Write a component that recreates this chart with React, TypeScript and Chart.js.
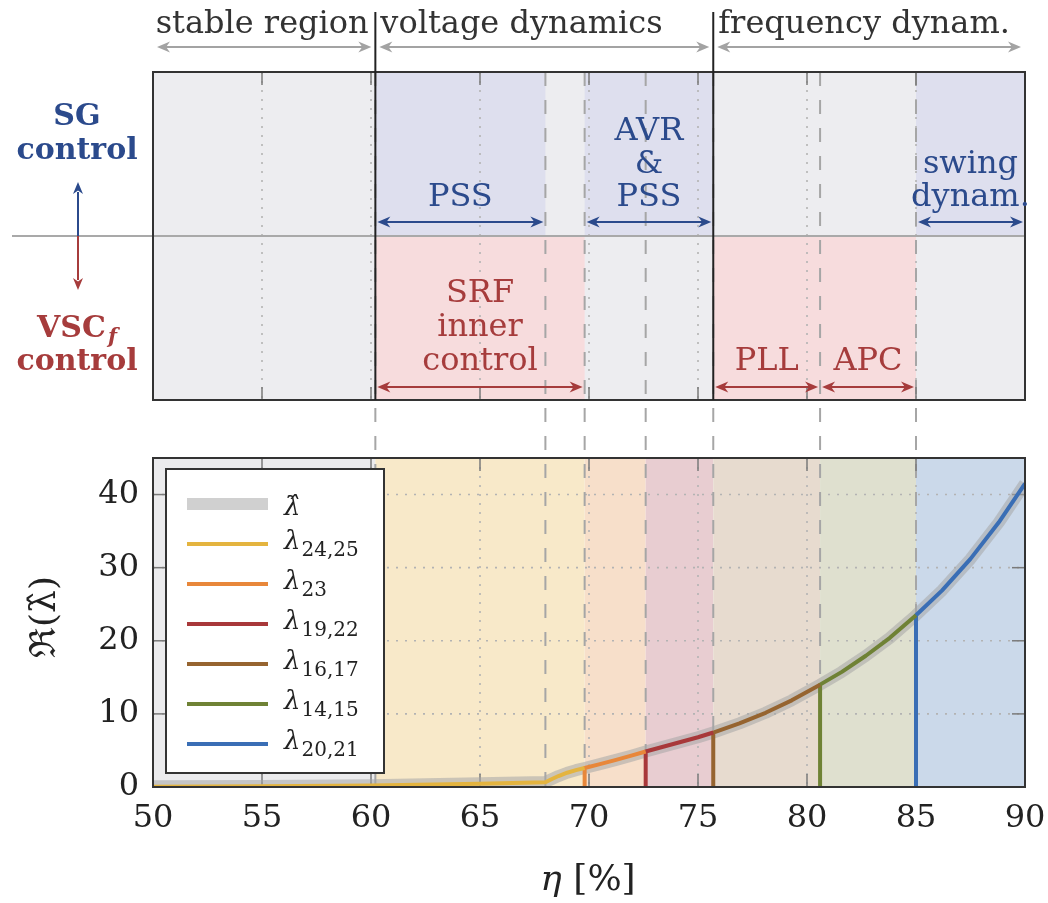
import React, { useEffect, useRef } from 'react';
import { Chart, registerables } from 'chart.js';

Chart.register(...registerables);

const SERIF = '"DejaVu Serif", "Liberation Serif", serif';

// ---- axis ticks ----
const xTickValues = [50, 55, 60, 65, 70, 75, 80, 85, 90];
const yTickValues = [0, 10, 20, 30, 40];

// ---- operating-region boundaries (η in %) ----
const regionBounds = [60.2, 68, 69.8, 72.6, 75.7, 80.6, 85];
const phaseEdges = [50, 60.2, 75.7, 90];
const phaseNames = ['stable region', 'voltage dynamics', 'frequency dynam.'];
const sgSpans = [[60.2, 68], [69.8, 75.7], [85, 90]];
const sgLabels = [['PSS'], ['AVR', '&', 'PSS'], ['swing', 'dynam.']];
const vscShade = [[60.2, 69.8], [75.7, 85]];
const vscSpans = [[60.2, 69.8], [75.7, 80.6], [80.6, 85]];
const vscLabels = [['SRF', 'inner', 'control'], ['PLL'], ['APC']];

const bandEdges = [50, 60.2, 69.8, 72.6, 75.7, 80.6, 85, 90];
const bandColors = ['#ebebed', '#f8e9c9', '#f7dfca', '#e8cdd1', '#e7dbcf', '#dfe0cf', '#cbd9ea'];

// ---- series: real part of dominant eigenvalue ----
const etaHat = [50, 55, 60, 65, 68, 68.3, 68.6, 69.0, 69.4, 69.8, 70.5, 71.2, 71.9, 72.6, 73.4, 74.2, 75.0, 75.7, 76.9, 78.1, 79.3, 80.6, 81.6, 82.7, 83.8, 85.0, 86.2, 87.5, 88.8, 90.0];
const reHat = [0.1, 0.15, 0.25, 0.5, 0.7, 1.1, 1.5, 1.95, 2.3, 2.6, 3.13, 3.68, 4.25, 4.85, 5.5, 6.15, 6.8, 7.45, 8.7, 10.15, 11.85, 14.0, 15.75, 17.95, 20.4, 23.5, 26.9, 31.2, 36.2, 41.5];

const eta2425 = [50, 55, 60, 65, 68, 68.3, 68.6, 69.0, 69.4, 69.8];
const re2425 = [0.05, 0.1, 0.2, 0.45, 0.65, 1.1, 1.5, 1.95, 2.3, 2.6];
const eta23 = [69.8, 69.8, 70.5, 71.2, 71.9, 72.6];
const re23 = [0, 2.6, 3.13, 3.68, 4.25, 4.85];
const eta1922 = [72.6, 72.6, 73.4, 74.2, 75.0, 75.7];
const re1922 = [0, 4.85, 5.5, 6.15, 6.8, 7.45];
const eta1617 = [75.7, 75.7, 76.9, 78.1, 79.3, 80.6];
const re1617 = [0, 7.45, 8.7, 10.15, 11.85, 14.0];
const eta1415 = [80.6, 80.6, 81.6, 82.7, 83.8, 85.0];
const re1415 = [0, 14.0, 15.75, 17.95, 20.4, 23.5];
const eta2021 = [85.0, 85.0, 86.2, 87.5, 88.8, 90.0];
const re2021 = [0, 23.5, 26.9, 31.2, 36.2, 41.5];

const legendMain = ['λ\u0302', 'λ', 'λ', 'λ', 'λ', 'λ', 'λ'];
const legendSub = ['', '24,25', '23', '19,22', '16,17', '14,15', '20,21'];
const seriesColors = ['rgba(165,165,165,0.55)', '#e4b43f', '#e8873a', '#a8383a', '#966430', '#6f8235', '#3a6eb5'];
const legendSwatch = ['#d0d0d0', '#e4b43f', '#e8873a', '#a8383a', '#966430', '#6f8235', '#3a6eb5'];

const toXY = (xs: number[], ys: number[]) => xs.map((x, i) => ({ x, y: ys[i] }));

const BLUE = '#2b4a8c';
const RED = '#a63c3c';
const BOX_TOP = 72;
const BOX_MID = 236;
const BOX_BOT = 400;

function head(ctx: CanvasRenderingContext2D, tx: number, ty: number, dx: number, dy: number, color: string, len = 13, half = 5.5) {
  const bx = tx - dx * len, by = ty - dy * len;
  const nx = -dy, ny = dx;
  const mx = tx - dx * len * 0.7, my = ty - dy * len * 0.7;
  ctx.beginPath();
  ctx.moveTo(tx, ty);
  ctx.lineTo(bx + nx * half, by + ny * half);
  ctx.lineTo(mx, my);
  ctx.lineTo(bx - nx * half, by - ny * half);
  ctx.closePath();
  ctx.fillStyle = color;
  ctx.fill();
}

function dblArrow(ctx: CanvasRenderingContext2D, x1: number, x2: number, y: number, color: string) {
  ctx.save();
  ctx.setLineDash([]);
  ctx.strokeStyle = color;
  ctx.lineWidth = 2;
  ctx.beginPath();
  ctx.moveTo(x1 + 6, y);
  ctx.lineTo(x2 - 6, y);
  ctx.stroke();
  head(ctx, x1, y, -1, 0, color);
  head(ctx, x2, y, 1, 0, color);
  ctx.restore();
}

function vline(ctx: CanvasRenderingContext2D, x: number, y1: number, y2: number) {
  ctx.beginPath();
  ctx.moveTo(x, y1);
  ctx.lineTo(x, y2);
  ctx.stroke();
}
function hline(ctx: CanvasRenderingContext2D, x1: number, x2: number, y: number) {
  ctx.beginPath();
  ctx.moveTo(x1, y);
  ctx.lineTo(x2, y);
  ctx.stroke();
}

const overlay = {
  id: 'overlay',
  beforeDatasetsDraw(chart: any) {
    const { ctx, chartArea: ca, scales } = chart;
    const px = (v: number) => scales.x.getPixelForValue(v);
    const py = (v: number) => scales.y.getPixelForValue(v);
    ctx.save();
    // lower plot bands
    for (let i = 0; i < bandColors.length; i++) {
      ctx.fillStyle = bandColors[i];
      ctx.fillRect(px(bandEdges[i]), ca.top, px(bandEdges[i + 1]) - px(bandEdges[i]), ca.bottom - ca.top);
    }
    // upper box fills
    ctx.fillStyle = '#ededf0';
    ctx.fillRect(px(50), BOX_TOP, px(90) - px(50), BOX_BOT - BOX_TOP);
    ctx.fillStyle = '#dedfee';
    for (const [a, b] of sgSpans) ctx.fillRect(px(a), BOX_TOP, px(b) - px(a), BOX_MID - BOX_TOP);
    ctx.fillStyle = '#f7dcdd';
    for (const [a, b] of vscShade) ctx.fillRect(px(a), BOX_MID, px(b) - px(a), BOX_BOT - BOX_MID);

    // dotted grid
    ctx.strokeStyle = '#b3b3b3';
    ctx.lineWidth = 1.6;
    ctx.setLineDash([2, 7]);
    for (const v of xTickValues.slice(1, -1)) {
      vline(ctx, px(v), ca.top, ca.bottom);
      vline(ctx, px(v), BOX_TOP, BOX_BOT);
    }
    for (const v of yTickValues.slice(1)) hline(ctx, ca.left, ca.right, py(v));

    // dashed region boundaries
    ctx.strokeStyle = '#a6a6a6';
    ctx.lineWidth = 2;
    ctx.setLineDash([14, 14]);
    for (const v of regionBounds) vline(ctx, px(v), BOX_TOP, ca.bottom);

    // inward tick marks
    ctx.setLineDash([]);
    ctx.strokeStyle = '#7a7a7a';
    ctx.lineWidth = 1.5;
    for (const v of xTickValues.slice(1, -1)) {
      vline(ctx, px(v), ca.bottom, ca.bottom - 13);
      vline(ctx, px(v), ca.top, ca.top + 13);
      vline(ctx, px(v), BOX_BOT, BOX_BOT - 13);
      vline(ctx, px(v), BOX_TOP, BOX_TOP + 13);
    }
    for (const v of yTickValues.slice(1)) {
      hline(ctx, ca.left, ca.left + 13, py(v));
      hline(ctx, ca.right, ca.right - 13, py(v));
    }
    ctx.restore();
  },
  afterDatasetsDraw(chart: any) {
    const { ctx, chartArea: ca, scales } = chart;
    const px = (v: number) => scales.x.getPixelForValue(v);
    ctx.save();
    ctx.setLineDash([]);
    // lower plot frame
    ctx.strokeStyle = '#333';
    ctx.lineWidth = 2;
    ctx.strokeRect(ca.left, ca.top, ca.right - ca.left, ca.bottom - ca.top);

    // divider between SG and VSC
    ctx.strokeStyle = '#a9a9a9';
    ctx.lineWidth = 2;
    hline(ctx, 12, px(90), BOX_MID);

    // upper box frame
    ctx.strokeStyle = '#333';
    ctx.lineWidth = 2;
    ctx.strokeRect(px(50), BOX_TOP, px(90) - px(50), BOX_BOT - BOX_TOP);

    // solid phase separators
    ctx.strokeStyle = '#222';
    ctx.lineWidth = 2;
    for (const v of phaseEdges.slice(1, -1)) vline(ctx, px(v), 12, BOX_BOT);

    // phase headers
    ctx.fillStyle = '#333';
    ctx.font = `32px ${SERIF}`;
    ctx.textBaseline = 'alphabetic';
    for (let i = 0; i < phaseNames.length; i++) {
      const a = px(phaseEdges[i]), b = px(phaseEdges[i + 1]);
      if (i === 0) {
        ctx.textAlign = 'center';
        ctx.fillText(phaseNames[i], (a + b) / 2 - 2, 33);
      } else {
        ctx.textAlign = 'left';
        ctx.fillText(phaseNames[i], a + 5, 33);
      }
      dblArrow(ctx, a + 4, b - 4, 47, '#a3a3a3');
    }

    // SG labels
    ctx.textAlign = 'center';
    ctx.font = `32px ${SERIF}`;
    sgSpans.forEach(([a, b], i) => {
      const lines = sgLabels[i];
      const cx = (px(a) + px(b)) / 2;
      lines.forEach((t, j) => {
        ctx.fillStyle = BLUE;
        ctx.fillText(t, cx, 206 - (lines.length - 1 - j) * 33);
      });
      dblArrow(ctx, px(a) + 2, px(b) - 2, 222, BLUE);
    });
    // VSC labels
    vscSpans.forEach(([a, b], i) => {
      const lines = vscLabels[i];
      const cx = (px(a) + px(b)) / 2;
      lines.forEach((t, j) => {
        ctx.fillStyle = RED;
        ctx.fillText(t, cx, 370 - (lines.length - 1 - j) * 34);
      });
      dblArrow(ctx, px(a) + 2, px(b) - 2, 387, RED);
    });

    // left-side group labels
    ctx.fillStyle = BLUE;
    ctx.font = `bold 30px ${SERIF}`;
    ctx.textAlign = 'center';
    ctx.fillText('SG', 77, 125);
    ctx.fillText('control', 77, 159);
    ctx.fillStyle = RED;
    const wV = ctx.measureText('VSC').width;
    ctx.font = `bold italic 21px ${SERIF}`;
    const wF = ctx.measureText('f').width;
    const startV = 77 - (wV + wF + 2) / 2;
    ctx.textAlign = 'left';
    ctx.font = `bold 30px ${SERIF}`;
    ctx.fillText('VSC', startV, 337);
    ctx.font = `bold italic 21px ${SERIF}`;
    ctx.fillText('f', startV + wV + 2, 343);
    ctx.textAlign = 'center';
    ctx.font = `bold 30px ${SERIF}`;
    ctx.fillText('control', 77, 370);

    // small vertical arrows
    ctx.lineWidth = 2;
    ctx.strokeStyle = BLUE;
    vline(ctx, 78, BOX_MID, 192);
    head(ctx, 78, 182, 0, -1, BLUE, 12, 5);
    ctx.strokeStyle = RED;
    vline(ctx, 78, BOX_MID, 280);
    head(ctx, 78, 290, 0, 1, RED, 12, 5);

    // legend
    const lx = 166, ly = 469, lw = 218, lh = 304;
    ctx.fillStyle = '#fff';
    ctx.fillRect(lx, ly, lw, lh);
    ctx.strokeStyle = '#333';
    ctx.lineWidth = 2;
    ctx.strokeRect(lx, ly, lw, lh);
    for (let i = 0; i < legendMain.length; i++) {
      const ry = 504 + i * 40;
      ctx.strokeStyle = legendSwatch[i];
      ctx.lineWidth = i === 0 ? 12 : 4;
      hline(ctx, 187, 268, ry);
      ctx.fillStyle = '#222';
      ctx.textAlign = 'left';
      ctx.font = `italic 26px ${SERIF}`;
      if (i === 0) {
        ctx.fillText(legendMain[i], 284, ry + 11);
      } else {
        ctx.fillText(legendMain[i], 284, ry + 5);
        const w = ctx.measureText(legendMain[i]).width;
        ctx.font = `20px ${SERIF}`;
        ctx.fillText(legendSub[i], 284 + w + 1, ry + 12);
      }
    }

    // axis titles
    ctx.fillStyle = '#222';
    ctx.textBaseline = 'alphabetic';
    ctx.font = `italic 36px ${SERIF}`;
    const wEta = ctx.measureText('η').width;
    ctx.font = `36px ${SERIF}`;
    const wRest = ctx.measureText(' [%]').width;
    const sx = 588 - (wEta + wRest) / 2;
    ctx.textAlign = 'left';
    ctx.font = `italic 36px ${SERIF}`;
    ctx.fillText('η', sx, 890);
    ctx.font = `36px ${SERIF}`;
    ctx.fillText(' [%]', sx + wEta, 890);
    ctx.save();
    ctx.translate(46, 617);
    ctx.rotate(-Math.PI / 2);
    ctx.textAlign = 'center';
    ctx.textBaseline = 'middle';
    ctx.fillText('ℜ(λ\u0302)', 0, 0);
    ctx.restore();

    ctx.restore();
  },
};

export default function App() {
  const ref = useRef<HTMLCanvasElement>(null);
  useEffect(() => {
    const canvas = ref.current!;
    const lineDs = (label: string, xs: number[], ys: number[], color: string, width: number) => ({
      label,
      data: toXY(xs, ys),
      borderColor: color,
      backgroundColor: color,
      borderWidth: width,
      pointRadius: 0,
      tension: 0,
      fill: false,
      borderJoinStyle: 'round',
      borderCapStyle: 'butt',
    });
    const chart = new Chart(canvas, {
      type: 'line',
      data: {
        datasets: [
          lineDs('λ24,25', eta2425, re2425, seriesColors[1], 4),
          lineDs('λ23', eta23, re23, seriesColors[2], 4),
          lineDs('λ19,22', eta1922, re1922, seriesColors[3], 4),
          lineDs('λ16,17', eta1617, re1617, seriesColors[4], 4),
          lineDs('λ14,15', eta1415, re1415, seriesColors[5], 4),
          lineDs('λ20,21', eta2021, re2021, seriesColors[6], 4),
          lineDs('λ̂', etaHat, reHat, seriesColors[0], 12),
        ] as any,
      },
      options: {
        responsive: false,
        animation: false,
        events: [],
        layout: { padding: { top: 458, right: 23, left: 0, bottom: 0 } },
        plugins: { legend: { display: false }, tooltip: { enabled: false }, title: { display: false } },
        scales: {
          x: {
            type: 'linear',
            min: 50,
            max: 90,
            afterFit: (s: any) => { s.height = 116; s.paddingLeft = 0; s.paddingRight = 0; },
            grid: { display: false, drawTicks: false },
            border: { display: false },
            ticks: { stepSize: 5, autoSkip: false, maxRotation: 0, padding: 12, color: '#222', font: { family: SERIF, size: 32 } },
          },
          y: {
            type: 'linear',
            min: 0,
            max: 45,
            afterFit: (s: any) => { s.width = 153; s.paddingTop = 0; s.paddingBottom = 0; },
            grid: { display: false, drawTicks: false },
            border: { display: false },
            ticks: {
              stepSize: 10,
              includeBounds: false,
              padding: 14,
              color: '#222',
              font: { family: SERIF, size: 32 },
              callback: (v: any) => (yTickValues.includes(Number(v)) ? String(v) : ''),
            },
          },
        },
      } as any,
      plugins: [overlay],
    });
    return () => chart.destroy();
  }, []);
  return (
    <div style={{ position: 'absolute', left: 0, top: 0, width: 1048, height: 903, background: '#fff' }}>
      <canvas ref={ref} width={1048} height={903} style={{ display: 'block', width: 1048, height: 903 }} />
    </div>
  );
}
